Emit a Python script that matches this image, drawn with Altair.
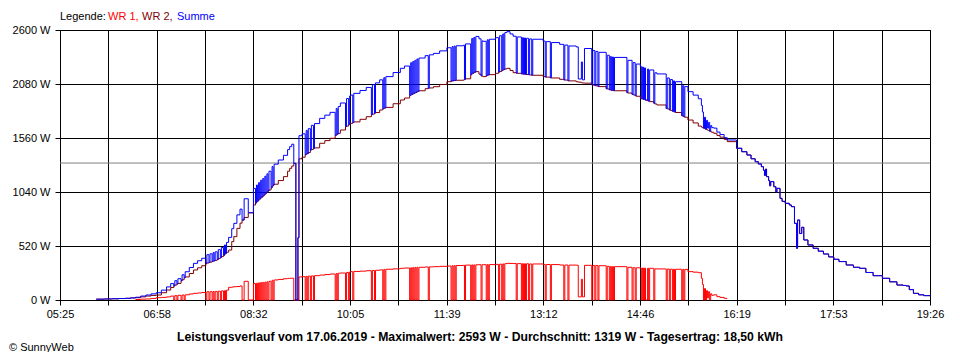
import altair as alt
import pandas as pd

# ---- data (time of day, watts) ----
TIME = [
    "06:00", "06:08", "06:15", "06:22", "06:28", "06:33", "06:38", "06:43", "06:48", "06:53",
    "06:58", "07:03", "07:08", "07:12", "07:15", "07:16", "07:18", "07:19", "07:22", "07:23",
    "07:25", "07:26", "07:30", "07:34", "07:38", "07:42", "07:46", "07:47", "07:49", "07:50",
    "07:52", "07:53", "07:54", "07:55", "07:57", "07:58", "08:00", "08:01", "08:03", "08:04",
    "08:05", "08:06", "08:08", "08:11", "08:13", "08:16", "08:19", "08:21", "08:23", "08:27",
    "08:32", "08:34", "08:35", "08:36", "08:37", "08:38", "08:39", "08:40", "08:41", "08:42",
    "08:43", "08:44", "08:45", "08:46", "08:47", "08:49", "08:50", "08:51", "08:52", "08:56",
    "09:01", "09:05", "09:07", "09:09", "09:11", "09:13", "09:15", "09:16", "09:19", "09:22",
    "09:23", "09:24", "09:25", "09:27", "09:28", "09:30", "09:31", "09:36", "09:41", "09:46",
    "09:51", "09:52", "09:53", "09:54", "09:56", "10:01", "10:02", "10:04", "10:05", "10:06",
    "10:08", "10:09", "10:15", "10:21", "10:26", "10:27", "10:29", "10:30", "10:34", "10:37",
    "10:38", "10:39", "10:40", "10:47", "10:54", "10:58", "11:03", "11:04", "11:05", "11:06",
    "11:07", "11:08", "11:09", "11:10", "11:11", "11:12", "11:18", "11:21", "11:22", "11:26",
    "11:32", "11:39", "11:43", "11:44", "11:45", "11:46", "11:47", "11:48", "11:55", "11:56",
    "11:57", "12:02", "12:03", "12:04", "12:05", "12:06", "12:07", "12:10", "12:12", "12:13",
    "12:14", "12:17", "12:18", "12:19", "12:20", "12:26", "12:29", "12:30", "12:32", "12:33",
    "12:34", "12:35", "12:37", "12:40", "12:43", "12:46", "12:47", "12:51", "12:52", "12:53",
    "12:54", "12:55", "12:56", "12:58", "12:59", "13:01", "13:02", "13:12", "13:14", "13:15",
    "13:19", "13:20", "13:28", "13:32", "13:33", "13:36", "13:37", "13:44", "13:46", "13:49",
    "13:50", "13:52", "13:59", "14:00", "14:02", "14:03", "14:05", "14:06", "14:13", "14:14",
    "14:16", "14:17", "14:18", "14:19", "14:20", "14:21", "14:33", "14:34", "14:38", "14:39",
    "14:41", "14:42", "14:46", "14:47", "14:48", "14:49", "14:50", "14:51", "14:53", "14:54",
    "14:55", "14:59", "15:00", "15:02", "15:11", "15:12", "15:14", "15:15", "15:17", "15:18",
    "15:19", "15:20", "15:26", "15:27", "15:28", "15:29", "15:32", "15:37", "15:42", "15:45",
    "15:46", "15:47", "15:48", "15:49", "15:50", "15:51", "15:52", "15:53", "15:54", "15:55",
    "15:57", "16:00", "16:03", "16:07", "16:10", "16:19", "16:24", "16:29", "16:33", "16:37",
    "16:40", "16:43", "16:45", "16:46", "16:47", "16:48", "16:50", "16:51", "16:52", "16:55",
    "16:57", "16:58", "17:01", "17:03", "17:06", "17:10", "17:12", "17:15", "17:17", "17:18",
    "17:20", "17:22", "17:24", "17:28", "17:33", "17:38", "17:43", "17:48", "17:53", "17:58",
    "18:05", "18:12", "18:18", "18:24", "18:31", "18:40", "18:47", "18:54", "19:00", "19:03",
    "19:06", "19:10", "19:15", "19:20", "19:26",
]

N = None
WR1 = [
    N, N, N, N, N, N, 5, 8, 10, 15,
    22, 25, 30, 38, 0, 42, 0, 45, 0, 48,
    0, 50, 58, 64, 68, 72, 0, 80, 0, 80,
    0, 82, 0, 82, 0, 85, 0, 88, 0, 90,
    0, 95, 122, 125, 128, 130, 135, 0, 180, 0,
    160, 0, 162, 0, 165, 0, 168, 0, 170, 0,
    172, 0, 175, 0, 180, 0, 190, 0, 193, 198,
    205, 208, 209, 210, 0, 0, 0, 222, 225, 0,
    228, 0, 230, 0, 232, 0, 234, 240, 245, 250,
    0, 255, 0, 258, 260, 0, 265, 0, 270, 273,
    0, 275, 278, 282, 0, 284, 0, 286, 290, 0,
    295, 0, 296, 300, 305, 308, 0, 310, 0, 312,
    0, 313, 0, 315, 0, 315, 318, 0, 319, 321,
    324, 327, 0, 330, 0, 331, 0, 332, 335, 0,
    336, 0, 338, 0, 338, 0, 339, 340, 0, 340,
    340, 0, 341, 0, 341, 343, 0, 345, 0, 347,
    0, 350, 353, 352, 351, 0, 350, 0, 350, 0,
    349, 0, 349, 0, 347, 0, 347, 343, 0, 342,
    0, 341, 337, 0, 337, 0, 336, 335, 30, 200,
    30, 334, 0, 333, 0, 332, 0, 330, 0, 325,
    0, 322, 0, 322, 0, 321, 0, 315, 0, 311,
    0, 310, 308, 0, 308, 0, 307, 0, 306, 0,
    305, 0, 300, 299, 0, 298, 0, 297, 0, 296,
    0, 296, 0, 295, 0, 295, 273, 268, 263, 209,
    150, 0, 110, 0, 90, 20, 80, 0, 60, 45,
    50, 32, 25, 16, 16, N, N, N, N, N,
    N, N, N, N, N, N, N, N, N, N,
    N, N, N, N, N, N, N, N, N, N,
    N, N, N, N, N, N, N, N, N, N,
    N, N, N, N, N, N, N, N, N, N,
    N, N, N, N, N,
]

WR2 = [
    8, 10, 12, 14, 16, 20, 22, 30, 38, 44,
    48, 70, 96, 120, 135, 144, 155, 160, 185, 195,
    215, 222, 255, 289, 310, 330, 353, 356, 362, 365,
    372, 375, 378, 382, 390, 400, 410, 418, 430, 440,
    450, 460, 481, 562, 610, 690, 740, 770, 795, 840,
    915, 935, 945, 955, 965, 975, 985, 992, 1000, 1011,
    1020, 1030, 1040, 1050, 1060, 1080, 1095, 1107, 1115, 1150,
    1188, 1240, 1268, 1290, 1316, 0, 600, 1360, 1375, 1400,
    1405, 1410, 1420, 1444, 1450, 1460, 1465, 1509, 1535, 1557,
    1585, 1590, 1598, 1605, 1637, 1670, 1675, 1690, 1695, 1701,
    1710, 1715, 1740, 1765, 1785, 1790, 1800, 1805, 1830, 1842,
    1846, 1850, 1855, 1890, 1926, 1945, 1970, 1975, 1980, 1985,
    1990, 1995, 2000, 2006, 2010, 2015, 2035, 2040, 2042, 2054,
    2075, 2102, 2108, 2110, 2112, 2114, 2115, 2116, 2119, 2125,
    2130, 2170, 2180, 2185, 2190, 2195, 2199, 2175, 2160, 2155,
    2151, 2160, 2165, 2168, 2170, 2183, 2195, 2200, 2210, 2215,
    2220, 2225, 2231, 2210, 2189, 2185, 2183, 2178, 2176, 2175,
    2174, 2172, 2171, 2170, 2167, 2165, 2164, 2151, 2148, 2146,
    2140, 2138, 2125, 2120, 2118, 2112, 2110, 2102, 2098, 2092,
    2090, 2088, 2072, 2070, 2065, 2062, 2058, 2055, 2035, 2032,
    2025, 2022, 2020, 2018, 2016, 2015, 1997, 1993, 1980, 1975,
    1968, 1962, 1942, 1938, 1935, 1932, 1928, 1925, 1918, 1915,
    1910, 1895, 1888, 1878, 1845, 1840, 1832, 1826, 1818, 1814,
    1810, 1806, 1775, 1770, 1765, 1760, 1733, 1705, 1675, 1665,
    1660, 1655, 1650, 1645, 1640, 1635, 1630, 1625, 1620, 1615,
    1605, 1585, 1568, 1547, 1525, 1461, 1428, 1396, 1360, 1332,
    1310, 1284, 1250, 1200, 1260, 1188, 1150, 1100, 1140, 1091,
    1040, 1075, 979, 950, 931, 915, 899, 738, 498, 770,
    640, 700, 578, 530, 498, 470, 443, 415, 392, 370,
    337, 315, 305, 265, 234, 209, 175, 144, 140, 135,
    100, 64, 50, 42, 39,
]

SERIES_NAMES = ["WR 1", "WR 2", "Summe"]
SERIES_COLORS = ["#FF0000", "#800000", "#0000FF"]
AVERAGE = 1319
Y_TICKS = [0, 520, 1040, 1560, 2080, 2600]
X_START, X_END, X_DIVISIONS = "05:25", "19:26", 18
TITLE = ("Leistungsverlauf vom 17.06.2019 - Maximalwert: 2593 W - "
         "Durchschnitt: 1319 W - Tagesertrag: 18,50 kWh")
LEGEND_LABEL = "Legende:"
LEGEND_TEXTS = ["WR 1,", "WR 2,", "Summe"]
COPYRIGHT = "\u00a9 SunnyWeb"

assert len(TIME) == len(WR1) == len(WR2)


def to_min(s):
    h, m = s.split(":")
    return int(h) * 60 + int(m)


df = pd.DataFrame({"t": [to_min(s) for s in TIME], "WR 1": WR1, "WR 2": WR2})
df["WR 1"] = pd.to_numeric(df["WR 1"])
df["Summe"] = df["WR 1"].fillna(0) + df["WR 2"]

x0, x1 = to_min(X_START), to_min(X_END)
span = x1 - x0
x_ticks = [x0 + k * span / X_DIVISIONS for k in range(X_DIVISIONS + 1)]

FONT = "Liberation Sans"
rv = "round(datum.value)"
label_expr = (
    f"round((datum.value - {x0}) * {X_DIVISIONS} / {span}) % 2 == 0 ? "
    f"(floor({rv} / 60) < 10 ? '0' : '') + floor({rv} / 60) + ':' + "
    f"({rv} % 60 < 10 ? '0' : '') + ({rv} % 60) : ''"
)

x_enc = alt.X(
    "t:Q",
    scale=alt.Scale(domain=[x0, x1], nice=False, zero=False),
    axis=alt.Axis(values=x_ticks, labelExpr=label_expr, title=None, grid=True,
                  labelFlush=False, labelOverlap=False, labelPadding=3),
)
y_scale = alt.Scale(domain=[0, 2600], nice=False, zero=True)
y_axis = alt.Axis(values=Y_TICKS, labelExpr="datum.value + ' W'", title=None, grid=True,
                  labelFlush=False, labelOverlap=False, labelPadding=5)

base = alt.Chart(df)

avg_rule = alt.Chart(pd.DataFrame({"avg": [AVERAGE]})).mark_rule(
    color="#808080", strokeWidth=1
).encode(y=alt.Y("avg:Q", scale=y_scale, axis=y_axis))

lines = []
for name, color in zip(SERIES_NAMES, SERIES_COLORS):
    lines.append(
        base.mark_line(color=color, strokeWidth=1, interpolate="step-after").encode(
            x=x_enc,
            y=alt.Y(f"{name}:Q", scale=y_scale, axis=y_axis),
        )
    )

txt = pd.DataFrame({"a": [0]})


def text_layer(text, x, y, color="#000000", bold=False, align="left", size=11):
    return alt.Chart(txt).mark_text(
        text=text, font=FONT, fontSize=size, fontWeight="bold" if bold else "normal",
        align=align, baseline="middle", color=color,
    ).encode(x=alt.value(x), y=alt.value(y))


legend_x = [0, 48, 82, 117]
legend_layers = [text_layer(LEGEND_LABEL, legend_x[0], -13)]
for t, c, lx in zip(LEGEND_TEXTS, SERIES_COLORS, legend_x[1:]):
    legend_layers.append(text_layer(t, lx, -13, color=c))

title_layer = text_layer(TITLE, 420, 307, bold=True, align="center", size=12.2)
copy_layer = text_layer(COPYRIGHT, -51, 318)

chart = alt.layer(
    avg_rule, *lines, *legend_layers, title_layer, copy_layer
).properties(
    width=870, height=270,
    autosize=alt.AutoSizeParams(type="none"),
    padding={"left": 52, "top": 22, "right": 22, "bottom": 52},
    background="#FFFFFF",
).configure_view(
    stroke="#000000", strokeWidth=1
).configure_axis(
    domainColor="#000000", tickColor="#000000", tickSize=5,
    gridColor="#000000", gridOpacity=1, gridWidth=1,
    labelFont=FONT, labelFontSize=11, labelColor="#000000",
)

chart.save("out.html", embed_options={"renderer": "svg", "actions": False})
